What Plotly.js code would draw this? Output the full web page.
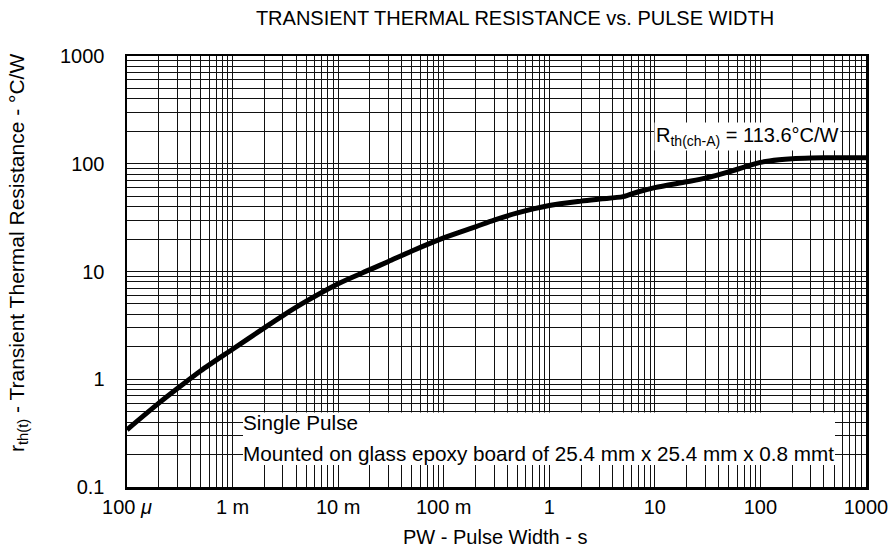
<!DOCTYPE html>
<html><head><meta charset="utf-8">
<script src="https://cdn.plot.ly/plotly-3.0.1.min.js"></script>
<style>html,body{margin:0;padding:0;background:#fff}#chart{width:889px;height:556px}</style>
</head><body><div id="chart"></div>
<script>
const pulseWidth = [1e-4, 2e-4, 3e-4, 5e-4, 1e-3, 2e-3, 3e-3, 5e-3, 0.01, 0.02, 0.03, 0.05, 0.1, 0.2, 0.3, 0.5, 1, 2, 3, 5, 7, 10, 20, 30, 50, 70, 100, 150, 200, 300, 500, 1000];
const thermalResistance = [0.34, 0.60, 0.82, 1.2, 1.9, 3.0, 3.9, 5.3, 7.7, 10.4, 12.4, 15.5, 20.5, 26, 30, 35, 41, 45, 47, 49.5, 55, 60, 68, 73.5, 84, 93, 103, 109, 111.5, 113, 113.6, 113.6];

const xDecades = [1e-4, 1e-3, 1e-2, 1e-1, 1, 10, 100, 1000];
const xDecadeLabels = ['100 <i>μ</i>', '1 m', '10 m', '100 m', '1', '10', '100', '1000'];
const yDecades = [0.1, 1, 10, 100, 1000];
const yDecadeLabels = ['0.1', '1', '10', '100', '1000'];

function logTicks(decades, labels) {
  const vals = [], text = [];
  for (let i = 0; i < decades.length - 1; i++) {
    for (let k = 1; k <= 9; k++) {
      vals.push(decades[i] * k);
      text.push(k === 1 ? labels[i] : '');
    }
  }
  vals.push(decades[decades.length - 1]);
  text.push(labels[labels.length - 1]);
  return {vals, text};
}
const xt = logTicks(xDecades, xDecadeLabels);
const yt = logTicks(yDecades, yDecadeLabels);

const FONT = 'Liberation Sans, Arial, Helvetica, sans-serif';
const L = 127, R = 866, T = 56, B = 487;
const W = R - L, H = B - T;
const px = x => (x - L) / W;
const py = y => (B - y) / H;

const trace = {
  x: pulseWidth, y: thermalResistance, type: 'scatter', mode: 'lines',
  line: {color: '#000', width: 5, shape: 'spline', smoothing: 0.8},
  hoverinfo: 'x+y'
};

const layout = {
  width: 889, height: 556,
  margin: {l: L, r: 889 - R, t: T, b: 556 - B, pad: 0},
  paper_bgcolor: '#fff', plot_bgcolor: '#fff',
  showlegend: false,
  font: {family: FONT, size: 20, color: '#000'},
  title: {text: 'TRANSIENT THERMAL RESISTANCE vs. PULSE WIDTH', font: {family: FONT, size: 20, color: '#000'},
          xref: 'paper', x: px(515), xanchor: 'center', yref: 'container', y: 1 - 18/556, yanchor: 'middle'},
  xaxis: {type: 'log', range: [-4, 3], tickmode: 'array', tickvals: xt.vals, ticktext: xt.text,
          showgrid: true, gridcolor: '#111', gridwidth: 1, ticks: '', ticklabelstandoff: 0,
          showline: true, linecolor: '#000', linewidth: 2.5, mirror: true, zeroline: false,
          tickfont: {family: FONT, size: 20, color: '#000'}},
  yaxis: {type: 'log', range: [-1, 3], tickmode: 'array', tickvals: yt.vals, ticktext: yt.text,
          showgrid: true, gridcolor: '#111', gridwidth: 1, ticks: '', ticklabelstandoff: 16,
          showline: true, linecolor: '#000', linewidth: 2.5, mirror: true, zeroline: false,
          tickfont: {family: FONT, size: 20, color: '#000'}},
  shapes: [
    {type: 'rect', xref: 'paper', yref: 'paper', x0: px(243), x1: px(835), y0: py(465), y1: py(412.5),
     fillcolor: '#fff', line: {width: 0}, layer: 'above'}
  ],
  annotations: [
    {text: 'r<sub>th(t)</sub> - Transient Thermal Resistance - °C/W', textangle: -90, showarrow: false,
     xref: 'paper', yref: 'paper', x: px(18), y: py(253), xanchor: 'center', yanchor: 'middle',
     font: {family: FONT, size: 21, color: '#000'}},
    {text: 'PW - Pulse Width - s', showarrow: false, xref: 'paper', yref: 'paper',
     x: px(495), y: py(537), xanchor: 'center', yanchor: 'middle', font: {family: FONT, size: 20, color: '#000'}},
    {text: 'Single Pulse', showarrow: false, xref: 'paper', yref: 'paper',
     x: px(241), y: py(422), xanchor: 'left', yanchor: 'middle', font: {family: FONT, size: 20.7, color: '#000'}},
    {text: 'Mounted on glass epoxy board of 25.4 mm x 25.4 mm x 0.8 mmt', showarrow: false, xref: 'paper', yref: 'paper',
     x: px(241), y: py(453), xanchor: 'left', yanchor: 'middle', font: {family: FONT, size: 20.7, color: '#000'}},
    {text: 'R<sub>th(ch-A)</sub> = 113.6°C/W', showarrow: false, xref: 'paper', yref: 'paper',
     x: px(747), y: py(137), xanchor: 'center', yanchor: 'middle', bgcolor: '#fff', borderpad: 1,
     font: {family: FONT, size: 20, color: '#000'}}
  ]
};

Plotly.newPlot('chart', [trace], layout, {staticPlot: true, displayModeBar: false});
</script>
</body></html>
